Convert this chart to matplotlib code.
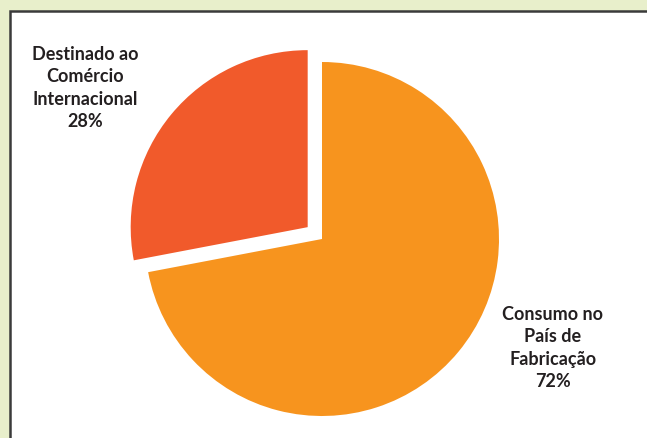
import matplotlib.pyplot as plt
from matplotlib.patches import Rectangle

labels = ['Consumo no\nPaís de\nFabricação', 'Destinado ao\nComércio\nInternacional']
values = [72, 28]
colors = ['#F7941E', '#F15A2B']

W, H = 647, 439
R = 177
fig = plt.figure(figsize=(W / 100, H / 100), dpi=100)
fig.patch.set_facecolor('#E8EFCB')
ax = fig.add_axes([0, 0, 1, 1])
ax.set_facecolor('none')

# white panel with dark border, running off the right and bottom edges
ax.add_patch(Rectangle((9.5, -20), W + 20, H - 11.5 + 20, facecolor='white',
                       edgecolor='#3a3a3a', linewidth=1.8, zorder=0))

# explode is in data units here, so scale it by the radius
ax.pie(values, colors=colors, explode=[0, 0.105 * R], startangle=90, counterclock=False,
       center=(322, H - 240), radius=R, frame=True,
       wedgeprops=dict(linewidth=0))

txt = dict(ha='center', va='center', fontsize=13, fontweight='bold',
           color='#231F20', family=['Lato', 'DejaVu Sans'], linespacing=1.38)
ax.text(553, H - 348, '{}\n{}%'.format(labels[0], values[0]), **txt)
ax.text(85, H - 88, '{}\n{}%'.format(labels[1], values[1]), **txt)

ax.set_xlim(0, W)
ax.set_ylim(0, H)
ax.axis('off')
fig.savefig('out.png', dpi=100)
